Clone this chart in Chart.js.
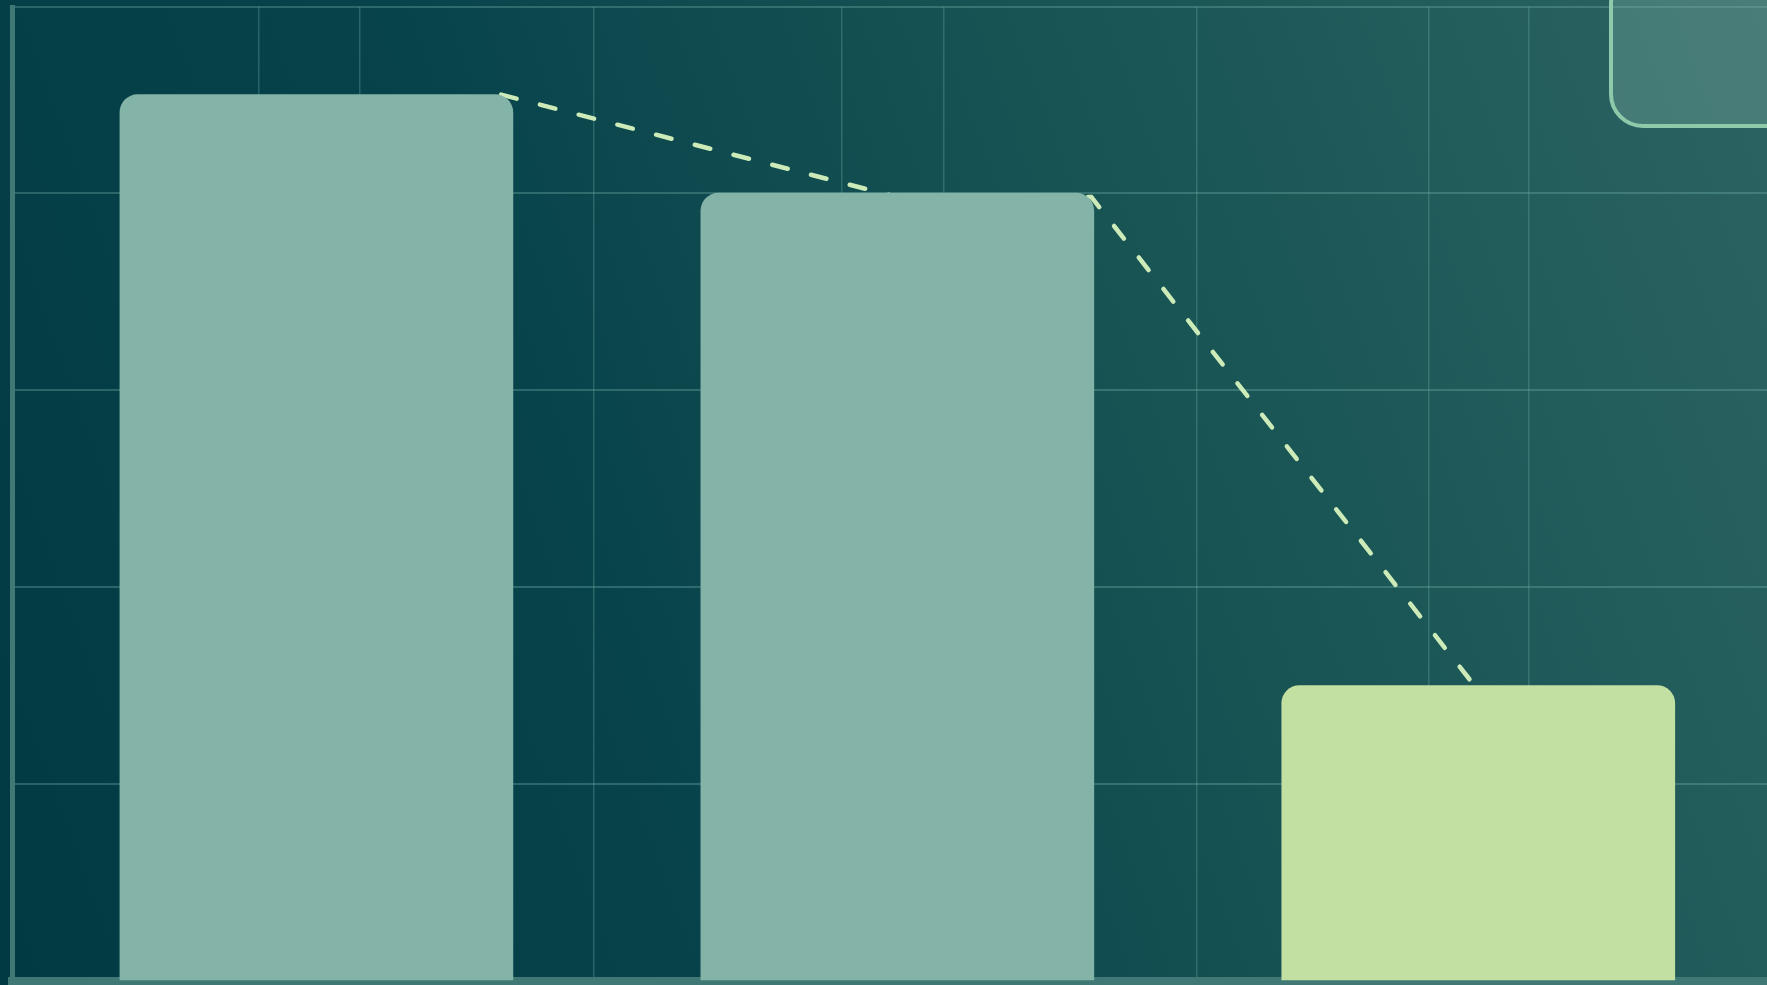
<!DOCTYPE html>
<html>
<head>
<meta charset="utf-8">
<title>Bar chart</title>
<script src="https://cdn.jsdelivr.net/npm/chart.js@4.4.1/dist/chart.umd.min.js"></script>
<style>
  html, body {
    margin: 0;
    padding: 0;
    overflow: hidden;
  }
  .wrap {
    position: relative;
    width: 1767px;
    height: 985px;
    background: linear-gradient(70deg, #023a43 0%, #07434b 35%, #185454 65%, #2b6362 100%);
  }
  .card {
    position: absolute;
    left: 1609px;
    top: -30px;
    width: 200px;
    height: 150px;
    border: 4px solid #8ecaa9;
    border-radius: 34px;
    background: rgba(130, 175, 165, 0.34);
  }
</style>
</head>
<body>
<div class="wrap">
  <canvas id="myChart"></canvas>
  <div class="card"></div>
</div>
<script>
// DATA
const categories = ["A", "B", "C"];
const barValues = [90, 80, 30];
const barColors = ["#84b3a8", "#84b3a8", "#c3e0a3"];

// dashed trend line (x in bar index units)
const trendX = [0.318, 1.0, 1.334, 2.0];
const trendY = [90, 79.6, 79.6, 29.5];

// grid positions
const xGridTicks = [-0.1, 0.075, 0.478, 0.905, 1.08, 1.515, 1.915, 2.087];
const yGridTicks = [0, 20, 40, 60, 80, 98.9];

const ctx = document.getElementById("myChart").getContext("2d");

const myChart = new Chart(ctx, {
  data: {
    labels: categories,
    datasets: [
      {
        type: "bar",
        data: barValues.map(function (v, i) {
          return { x: i, y: v };
        }),
        backgroundColor: barColors,
        borderRadius: 18,
        borderSkipped: "bottom",
        barThickness: 393,
        order: 1,
      },
      {
        type: "line",
        data: trendX.map(function (x, i) {
          return { x: x, y: trendY[i] };
        }),
        borderColor: "#cdebb8",
        borderWidth: 4.5,
        borderDash: [16, 24],
        borderCapStyle: "round",
        pointRadius: 0,
        tension: 0,
        fill: false,
        order: 2,
      },
    ],
  },
  options: {
    responsive: true,
    maintainAspectRatio: false,
    animation: false,
    layout: {
      padding: { left: 12, top: 7, right: 0, bottom: 4 },
    },
    plugins: {
      legend: { display: false },
      tooltip: { enabled: false },
    },
    scales: {
      x: {
        type: "linear",
        min: -0.524,
        max: 2.497,
        offset: false,
        afterBuildTicks: function (scale) {
          scale.ticks = xGridTicks.map(function (v) {
            return { value: v };
          });
        },
        ticks: { display: false },
        grid: {
          offset: false,
          color: "rgba(110, 175, 165, 0.32)",
          lineWidth: 1.5,
          drawTicks: false,
        },
        border: {
          display: true,
          color: "#3f7874",
          width: 8,
        },
      },
      y: {
        min: 0,
        max: 98.9,
        afterBuildTicks: function (scale) {
          scale.ticks = yGridTicks.map(function (v) {
            return { value: v };
          });
        },
        ticks: { display: false },
        grid: {
          color: "rgba(110, 175, 165, 0.36)",
          lineWidth: 2,
          drawTicks: false,
        },
        border: {
          display: true,
          color: "#3f7874",
          width: 5,
        },
      },
    },
  },
});
</script>
</body>
</html>
